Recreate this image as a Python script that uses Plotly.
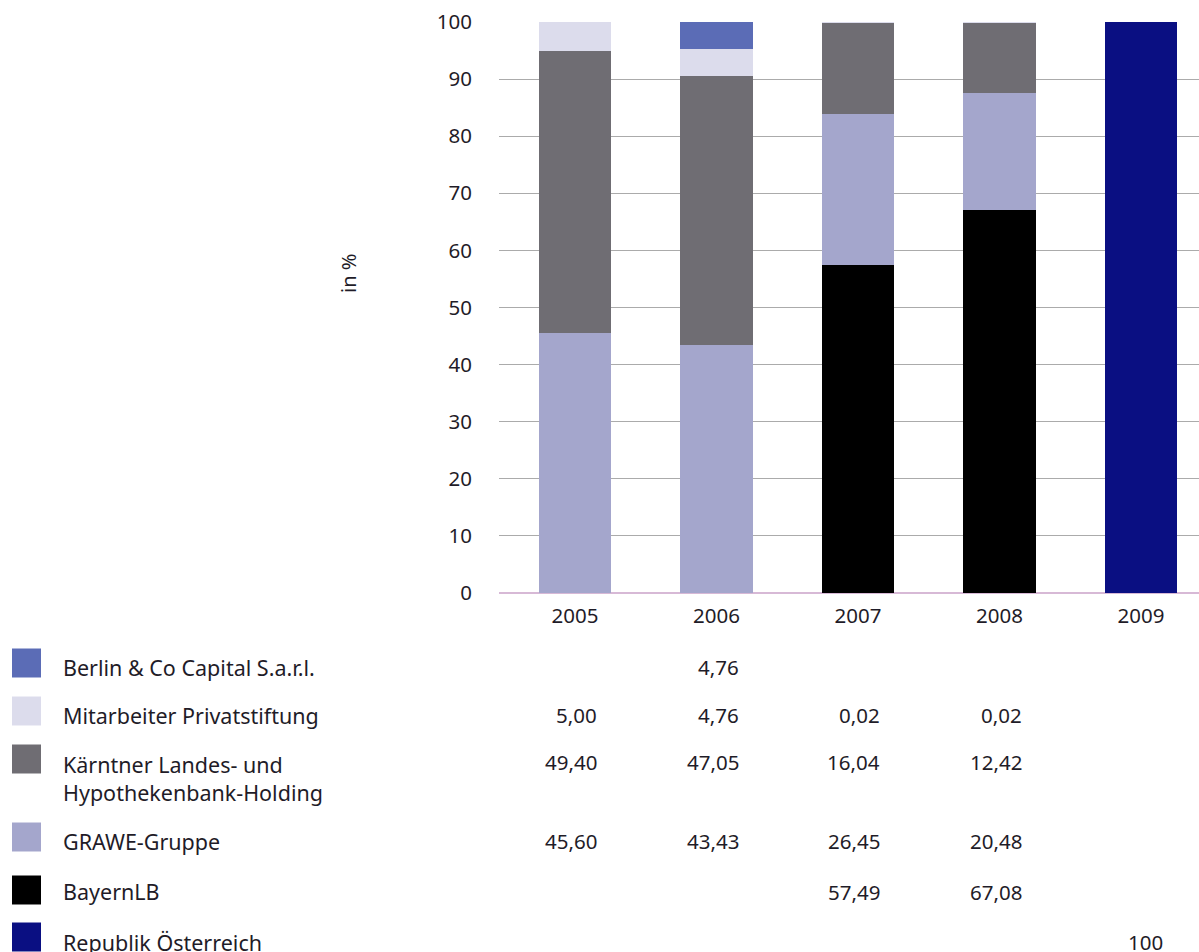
import plotly.graph_objects as go

years = ["2005", "2006", "2007", "2008", "2009"]

# series values (None = no holding)
bayernlb    = [None, None, 57.49, 67.08, None]
grawe       = [45.60, 43.43, 26.45, 20.48, None]
kaerntner   = [49.40, 47.05, 16.04, 12.42, None]
mitarbeiter = [5.00, 4.76, 0.02, 0.02, None]
berlin      = [None, 4.76, None, None, None]
republik    = [None, None, None, None, 100]

y_ticks = [0, 10, 20, 30, 40, 50, 60, 70, 80, 90, 100]

# stacking order bottom -> top
series = [
    ("Republik Österreich", republik, "#0a0f82"),
    ("BayernLB", bayernlb, "#000000"),
    ("GRAWE-Gruppe", grawe, "#a4a6cc"),
    ("Kärntner Landes- und<br>Hypothekenbank-Holding", kaerntner, "#6f6d73"),
    ("Mitarbeiter Privatstiftung", mitarbeiter, "#dcdcec"),
    ("Berlin & Co Capital S.a.r.l.", berlin, "#5b6cb6"),
]

# table order top -> bottom
table_order = [
    "Berlin & Co Capital S.a.r.l.",
    "Mitarbeiter Privatstiftung",
    "Kärntner Landes- und<br>Hypothekenbank-Holding",
    "GRAWE-Gruppe",
    "BayernLB",
    "Republik Österreich",
]

W, H = 1199, 952
L, R, T, B = 499, 0, 22, 359
PW, PH = W - L - R, H - T - B
FONT = "Noto Sans"
TXT = "#1f1c28"


def py2paper(py):
    return (H - B - py) / PH


def px2paper(px):
    return (px - L) / PW


def fmt(v):
    if float(v).is_integer() and v >= 100:
        return str(int(v))
    return f"{v:.2f}".replace(".", ",")


fig = go.Figure()
for name, vals, col in series:
    fig.add_trace(go.Bar(
        x=years, y=vals, name=name.replace("<br>", " "),
        marker=dict(color=col, line=dict(width=0)),
        width=0.51,
    ))

# table rows: text centers (pixels)
text_rows = [667, 715, 778, 841, 892, 942]
swatch_rows = [663, 711, 759, 837, 890, 937]
value_rows = [667, 715, 762, 841, 892, 942]
lookup = {n: (v, c) for n, v, c in series}

annotations = []
shapes = []
for i, name in enumerate(table_order):
    vals, col = lookup[name]
    sy = swatch_rows[i]
    shapes.append(dict(
        type="rect", xref="paper", yref="paper",
        x0=px2paper(12), x1=px2paper(41),
        y0=py2paper(sy + 14.5), y1=py2paper(sy - 14.5),
        fillcolor=col, line=dict(width=0), layer="above",
    ))
    annotations.append(dict(
        text=name, xref="paper", yref="paper",
        x=px2paper(61), y=py2paper(text_rows[i]),
        xanchor="left", yanchor="middle", align="left",
        showarrow=False, font=dict(family=FONT, size=21.5, color=TXT),
    ))
    for j, v in enumerate(vals):
        if v is None:
            continue
        annotations.append(dict(
            text=fmt(v), xref="x", yref="paper",
            x=j + 0.17, y=py2paper(value_rows[i]),
            xanchor="right", yanchor="middle",
            showarrow=False, font=dict(family=FONT, size=20.5, color=TXT),
        ))

annotations.append(dict(
    text="in %", xref="paper", yref="paper",
    x=px2paper(348), y=py2paper(274),
    xanchor="center", yanchor="middle", textangle=-90,
    showarrow=False, font=dict(family=FONT, size=20, color=TXT),
))

fig.update_layout(
    width=W, height=H,
    margin=dict(l=L, r=R, t=T, b=B, pad=0),
    barmode="stack",
    bargap=0,
    showlegend=False,
    plot_bgcolor="white", paper_bgcolor="white",
    font=dict(family=FONT, size=20, color=TXT),
    annotations=annotations,
    shapes=shapes,
)
fig.update_xaxes(
    type="category", range=[-0.537, 4.41],
    showgrid=False, zeroline=False, showline=False,
    ticks="outside", ticklen=4, tickcolor="rgba(0,0,0,0)",
    tickfont=dict(family=FONT, size=20.5, color=TXT),
)
fig.update_yaxes(
    range=[0, 100], tickvals=y_ticks,
    showgrid=True, gridcolor="#ababab", gridwidth=1,
    zeroline=True, zerolinecolor="#d7b9d6", zerolinewidth=1.5,
    showline=False,
    ticks="outside", ticklen=22, tickcolor="rgba(0,0,0,0)",
    tickfont=dict(family=FONT, size=20.5, color=TXT),
)

fig.write_html("out.html")
